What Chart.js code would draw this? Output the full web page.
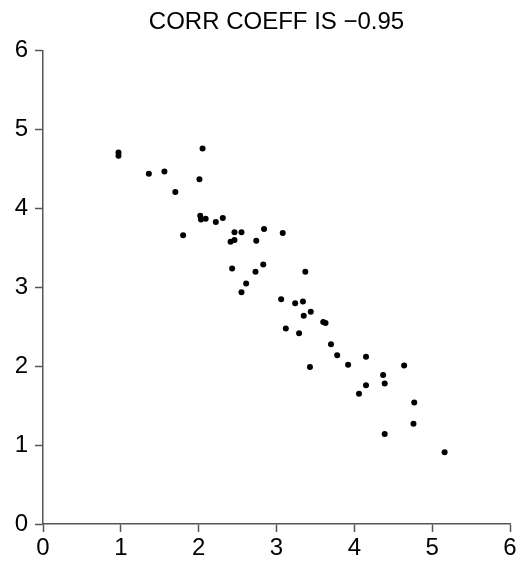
<!DOCTYPE html>
<html>
<head>
<meta charset="utf-8">
<script src="https://cdn.jsdelivr.net/npm/chart.js@4/dist/chart.umd.min.js"></script>
<style>
    html, body { margin: 0; padding: 0; background: #fff; }
    .chartWrapper { width: 527px; height: 563px; }
</style>
</head>
<body>
<div class="chartWrapper"><canvas id="corrChart"></canvas></div>
<script>
//-----------------------------------------------------------------------------
// data
//-----------------------------------------------------------------------------
const chartTitle = "CORR COEFF IS \u22120.95";
const xValues = [0.97, 0.97, 1.36, 1.56, 2.05, 2.01, 1.70, 2.02, 2.03, 2.09,
                 1.80, 2.22, 2.31, 2.46, 2.55, 2.84, 3.08, 2.41, 2.46, 2.74,
                 2.43, 2.73, 2.83, 3.37, 2.61, 2.55, 3.06, 3.24, 3.34, 3.44,
                 3.35, 3.60, 3.63, 3.12, 3.29, 3.70, 3.78, 4.15, 3.92, 3.43,
                 4.64, 4.37, 4.39, 4.15, 4.06, 4.77, 4.76, 4.39, 5.16];
const yValues = [4.71, 4.67, 4.44, 4.47, 4.76, 4.37, 4.21, 3.91, 3.86, 3.87,
                 3.66, 3.83, 3.88, 3.70, 3.70, 3.74, 3.69, 3.58, 3.60, 3.59,
                 3.24, 3.20, 3.29, 3.20, 3.05, 2.94, 2.85, 2.80, 2.82, 2.69,
                 2.64, 2.56, 2.55, 2.48, 2.42, 2.28, 2.14, 2.12, 2.02, 1.99,
                 2.01, 1.89, 1.78, 1.76, 1.65, 1.54, 1.27, 1.14, 0.91];
const xTicks = [0, 1, 2, 3, 4, 5, 6];
const yTicks = [0, 1, 2, 3, 4, 5, 6];

const axisColor = "#555";
const fontFamily = "'Liberation Sans', Arial, sans-serif";

//-----------------------------------------------------------------------------
// axis config shared by x and y
//-----------------------------------------------------------------------------
function axisConfig(tickValues, fitFn, labelPad){
    return {
        type: "linear",
        min: tickValues[0],
        max: tickValues[tickValues.length - 1],
        afterBuildTicks: scale => { scale.ticks = tickValues.map(v => ({ value: v })); },
        afterFit: fitFn,
        border: { display: true, color: axisColor, width: 1.5 },
        grid: {
            drawOnChartArea: false,
            drawTicks: true,
            tickLength: 8,
            tickColor: axisColor,
            tickWidth: 1.5
        },
        ticks: {
            color: "#000",
            font: { family: fontFamily, size: 24 },
            padding: labelPad,
            autoSkip: false,
            maxRotation: 0
        }
    };
}

const points = xValues.map((x, i) => ({ x: x, y: yValues[i] }));

const ctx = document.getElementById("corrChart").getContext("2d");
const chart = new Chart(ctx, {
    type: "scatter",
    data: {
        datasets: [{
            data: points,
            backgroundColor: "#000",
            borderColor: "#000",
            pointRadius: 3,
            pointHoverRadius: 3,
            borderWidth: 0
        }]
    },
    options: {
        responsive: true,
        maintainAspectRatio: false,
        animation: false,
        layout: { padding: { left: 0, right: 17, top: 0, bottom: 0 } },
        plugins: {
            legend: { display: false },
            tooltip: { enabled: false },
            title: {
                display: true,
                text: chartTitle,
                fullSize: false,
                color: "#000",
                font: { family: fontFamily, size: 24, weight: "normal" },
                padding: { top: 8, bottom: 14 }
            }
        },
        scales: {
            x: axisConfig(xTicks, s => { s.height = 39; }, 2),
            y: axisConfig(yTicks, s => { s.width = 43; }, 7)
        }
    }
});
</script>
</body>
</html>
